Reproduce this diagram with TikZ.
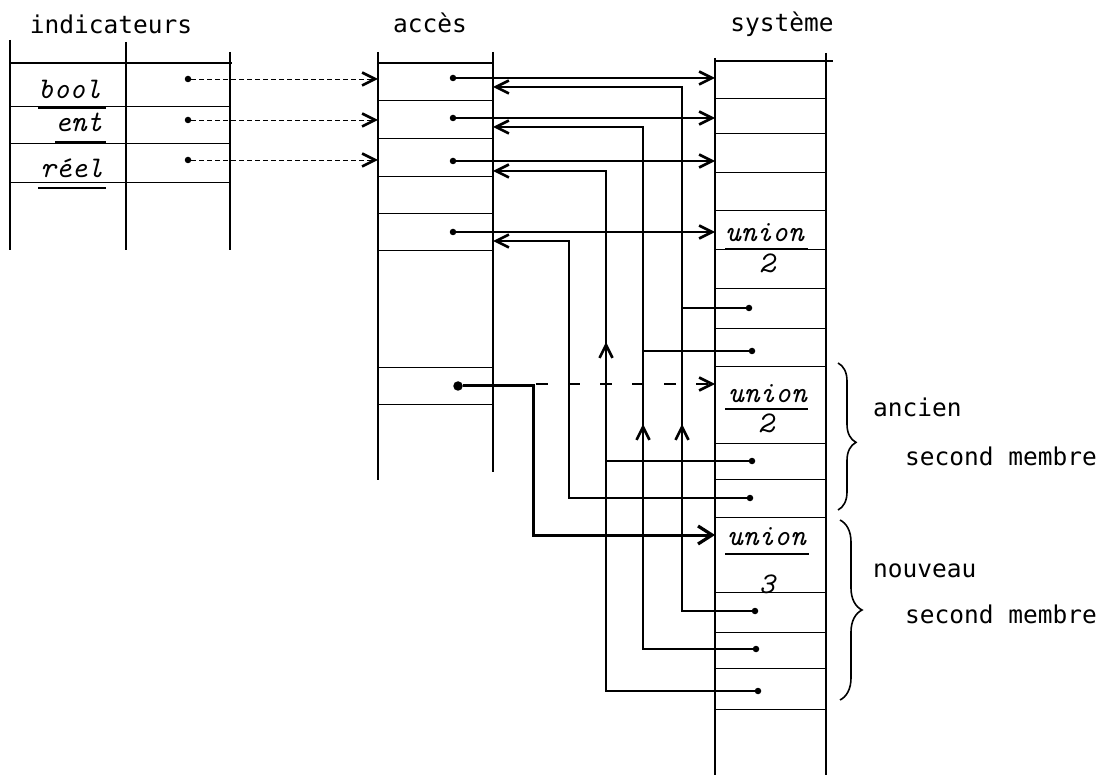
\documentclass[tikz,border=0pt]{standalone}
\usepackage{fontspec}
\newfontfamily\tw{DejaVu Sans Mono}
\usetikzlibrary{arrows.meta,decorations.pathreplacing}
\tikzset{
  colframe/.style={line width=1.5pt},
  topline/.style={line width=1.8pt},
  rowline/.style={line width=0.8pt},
  ttl/.style={font=\tw\fontsize{24.5}{24.5}\selectfont, anchor=base, inner sep=0pt},
  lab/.style={font=\tw\fontsize{24.5}{24.5}\selectfont, anchor=base west, inner sep=0pt},
  ital/.style={font=\ttfamily\itshape\fontsize{30}{30}\selectfont, anchor=base west, inner sep=0pt},
  italc/.style={font=\ttfamily\itshape\fontsize{30}{30}\selectfont, anchor=base, inner sep=0pt},
  uline/.style={line width=2.2pt},
  ptr/.style={line width=1.1pt},
  dptr/.style={line width=0.9pt, dash pattern=on 5pt off 3pt},
  longdash/.style={line width=1.1pt, dash pattern=on 12pt off 20pt},
  arr/.style={-{Straight Barb[length=13pt,width=13pt,line width=2.6pt]}},
  bigarr/.style={-{Straight Barb[length=14pt,width=18pt,line width=3.2pt]}},
  pdot/.style={circle, fill, inner sep=0pt, minimum size=6.5pt},
  bigdot/.style={circle, fill, inner sep=0pt, minimum size=9.5pt},
  brc/.style={line width=1.6pt, decorate},
}
\begin{document}
\begin{tikzpicture}[x=1pt,y=-1pt]
\useasboundingbox (0,0) rectangle (1114,775);

% ---------- titles ----------
\node[ttl] (tind) at (111,34) {indicateurs};
\node[ttl] (tacc) at (430,33) {accès};
\node[ttl] (tsys) at (782,32) {système};

% ---------- indicateurs table ----------
\draw[colframe] (10,40) -- (10,250);
\draw[colframe] (126,42) -- (126,250);
\draw[colframe] (230,52) -- (230,250);
\draw[topline] (10,63) -- (232,63);
\foreach \y in {106,143,182} \draw[rowline] (10,\y) -- (230,\y);
\node[ital] (lbool) at (38,99) {bool};
\node[ital] (lent) at (55,132) {ent};
\node[ital] (lreel) at (40,178) {réel};
\draw[uline] (38,108) -- (106,108);
\draw[uline] (55,142) -- (106,142);
\draw[uline] (38,188) -- (106,188);

% ---------- accès table ----------
\draw[colframe] (378,52) -- (378,480);
\draw[colframe] (493,52) -- (493,472);
\draw[topline] (378,63) -- (493,63);
\foreach \y in {100,138,176,213,250,367,404} \draw[rowline] (378,\y) -- (493,\y);

% ---------- système table ----------
\draw[colframe, line width=1.9pt] (715,58) -- (715,775);
\draw[colframe, line width=1.9pt] (826,53) -- (826,775);
\draw[topline] (715,61) -- (833,61);
\foreach \y in {98,133,172,210,249,288,328,366,443,479,517,592,632,668,709}
  \draw[rowline] (715,\y) -- (826,\y);
\node[ital] (u1) at (725,242) {union};
\node[italc] (n1) at (767,273) {2};
\node[ital] (u2) at (728,403) {union};
\node[italc] (n2) at (766,433) {2};
\node[ital] (u3) at (727,545) {union};
\node[italc] (n3) at (767,593) {3};
\draw[uline] (725,249) -- (808,249);
\draw[uline] (725,409) -- (808,409);
\draw[uline] (725,554) -- (809,554);

% ---------- braces and labels ----------
\draw[brc, decoration={brace, amplitude=18pt, aspect=0.54}] (838,363) -- (838,510);
\draw[brc, decoration={brace, amplitude=22pt}] (840,520) -- (840,700);
\node[lab] (anc) at (873,417) {ancien};
\node[lab] (sm1) at (905,465) {second membre};
\node[lab] (nou) at (873,577) {nouveau};
\node[lab] (sm2) at (905,623) {second membre};

% ---------- indicateurs -> accès ----------
\node[pdot] (ib) at (188,79) {};
\node[pdot] (ie) at (188,120) {};
\node[pdot] (ir) at (188,160) {};
\coordinate (al1) at (378,79);
\coordinate (al2) at (378,120);
\coordinate (al3) at (378,160);
\draw[dptr, arr] (ib) -- (al1);
\draw[dptr, arr] (ie) -- (al2);
\draw[dptr, arr] (ir) -- (al3);

% ---------- accès -> système ----------
\node[pdot] (a1) at (453,78) {};
\node[pdot] (a2) at (453,118) {};
\node[pdot] (a3) at (453,161) {};
\node[pdot] (a4) at (453,232) {};
\coordinate (s1) at (715,78);
\coordinate (s2) at (715,118);
\coordinate (s3) at (715,161);
\coordinate (s4) at (715,232);
\draw[ptr, arr] (a1) -- (s1);
\draw[ptr, arr] (a2) -- (s2);
\draw[ptr, arr] (a3) -- (s3);
\draw[ptr, arr] (a4) -- (s4);

% ---------- système -> accès (back pointers) ----------
\coordinate (ar1) at (493,87);
\coordinate (ar2) at (493,127);
\coordinate (ar3) at (493,171);
\coordinate (ar4) at (493,241);
\coordinate (k1) at (682,87);
\coordinate (k2) at (643,127);
\coordinate (k3) at (606,171);
\coordinate (k4) at (569,241);
\coordinate (j1) at (682,308);
\coordinate (j2) at (643,351);
\coordinate (j3) at (606,461);
\node[pdot] (d1) at (749,308) {};
\node[pdot] (d2) at (752,351) {};
\node[pdot] (d3) at (752,461) {};
\node[pdot] (d4) at (750,498) {};
\node[pdot] (d5) at (755,611) {};
\node[pdot] (d6) at (756,649) {};
\node[pdot] (d7) at (758,691) {};
\draw[ptr, arr] (d1) -| (k1) -- (ar1);
\draw[ptr, arr] (d2) -| (k2) -- (ar2);
\draw[ptr, arr] (d3) -| (k3) -- (ar3);
\draw[ptr, arr] (d4) -| (k4) -- (ar4);
\draw[ptr] (d5) -| (j1);
\draw[ptr] (d6) -| (j2);
\draw[ptr] (d7) -| (j3);
% arrows along the verticals
\coordinate (m1) at (682,424);
\coordinate (m2) at (643,424);
\coordinate (m3) at (606,342);
\draw[ptr, arr] (682,455) -- (m1);
\draw[ptr, arr] (643,455) -- (m2);
\draw[ptr, arr] (606,375) -- (m3);

% ---------- the modified access ----------
\node[bigdot] (ab) at (458,386) {};
\coordinate (bend1) at (533,386);
\coordinate (bend2) at (533,535);
\coordinate (su3) at (715,535);
\coordinate (su2) at (715,384);
\coordinate (ds) at (536,384);
\draw[line width=3pt, bigarr] (ab) -- (bend1) -- (bend2) -- (su3);
\draw[longdash, arr] (ds) -- (su2);
\end{tikzpicture}
\end{document}
